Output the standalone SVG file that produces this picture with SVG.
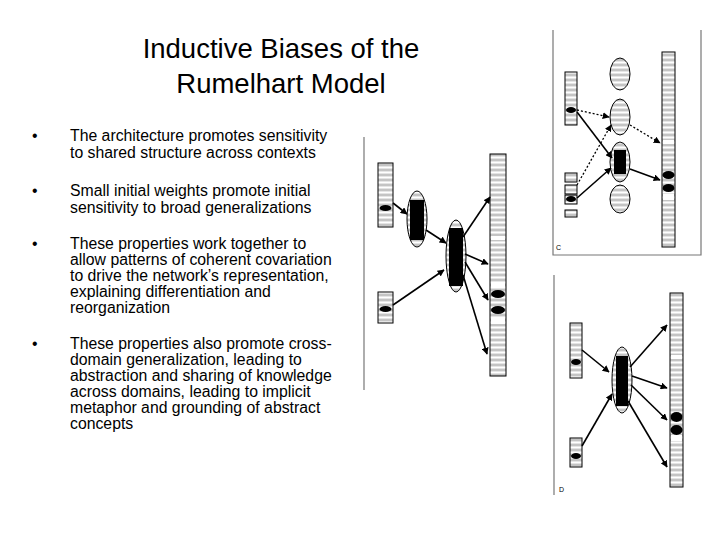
<svg xmlns="http://www.w3.org/2000/svg" width="720" height="540" viewBox="0 0 720 540">
<style>
text{font-family:"Liberation Sans",Arial,sans-serif;fill:#000}
.t{font-size:27.5px}
.b{font-size:15.8px}
.box{fill:url(#u);stroke:#000;stroke-width:1}
.ov{fill:url(#u);stroke:#000;stroke-width:1}
.blk{fill:#000}
.ar{stroke:#000;stroke-width:1.6;fill:none;marker-end:url(#ah)}
.dt{stroke:#000;stroke-width:1.3;fill:none;stroke-dasharray:2 2;marker-end:url(#ah)}
.fr{stroke:#777;stroke-width:1.2;fill:none}
</style>
<defs>
<pattern id="u" patternUnits="userSpaceOnUse" x="0" y="0" width="4" height="5">
<rect width="4" height="5" fill="#fff"/>
<path d="M0 0.8 H4 M0 4.2 H4" stroke="#555" stroke-width="0.5"/>
</pattern>
<marker id="ah" viewBox="0 0 10 10" refX="9" refY="5" markerWidth="7" markerHeight="7" orient="auto" markerUnits="userSpaceOnUse"><path d="M0 0 L10 5 L0 10 z" fill="#000"/></marker>
</defs>
<rect width="720" height="540" fill="#fff"/>
<g id="title">
<text class="t" x="281" y="58" text-anchor="middle">Inductive Biases of the</text>
<text class="t" x="281" y="93" text-anchor="middle">Rumelhart Model</text>
</g>
<g id="bullets">
<text class="b" x="32" y="141">•</text>
<text class="b" x="70" y="141">The architecture promotes sensitivity</text>
<text class="b" x="70" y="158">to shared structure across contexts</text>
<text class="b" x="32" y="196">•</text>
<text class="b" x="70" y="196">Small initial weights promote initial</text>
<text class="b" x="70" y="213">sensitivity to broad generalizations</text>
<text class="b" x="32" y="249">•</text>
<text class="b" x="70" y="249">These properties work together to</text>
<text class="b" x="70" y="265">allow patterns of coherent covariation</text>
<text class="b" x="70" y="281">to drive the network’s representation,</text>
<text class="b" x="70" y="297">explaining differentiation and</text>
<text class="b" x="70" y="313">reorganization</text>
<text class="b" x="32" y="349">•</text>
<text class="b" x="70" y="349">These properties also promote cross-</text>
<text class="b" x="70" y="365">domain generalization, leading to</text>
<text class="b" x="70" y="381">abstraction and sharing of knowledge</text>
<text class="b" x="70" y="397">across domains, leading to implicit</text>
<text class="b" x="70" y="413">metaphor and grounding of abstract</text>
<text class="b" x="70" y="429">concepts</text>
</g>
<g id="net-mid">
<line class="fr" x1="364" y1="137" x2="364" y2="390"/>
<rect class="box" x="378" y="163" width="15" height="64"/>
<ellipse class="blk" cx="385.5" cy="208" rx="6" ry="3"/>
<rect class="box" x="378" y="292" width="15" height="31"/>
<ellipse class="blk" cx="385.5" cy="309" rx="6" ry="3"/>
<ellipse class="ov" cx="417" cy="219" rx="10" ry="28"/>
<rect class="blk" x="410" y="200" width="14" height="40"/>
<ellipse class="ov" cx="456" cy="256" rx="10" ry="36"/>
<rect class="blk" x="449" y="228" width="14" height="58"/>
<rect class="box" x="490" y="154" width="16" height="222"/>
<rect x="491" y="236" width="14" height="4" fill="#fff"/>
<rect x="491" y="282" width="14" height="5" fill="#fff"/>
<rect x="491" y="318" width="14" height="6" fill="#fff"/>
<ellipse class="blk" cx="498" cy="294" rx="7" ry="4"/>
<ellipse class="blk" cx="498" cy="310" rx="7" ry="4"/>
</g>
<g id="net-c">
<path class="fr" d="M553 30 V255 H701 V30"/>
<text x="556" y="250" style="font-size:7px">C</text>
<rect class="box" x="565" y="72" width="12" height="53"/>
<ellipse class="blk" cx="571" cy="110" rx="5" ry="3"/>
<rect class="box" x="565" y="173" width="12" height="9"/>
<rect class="box" x="565" y="185" width="12" height="9"/>
<rect class="box" x="565" y="195" width="12" height="9"/>
<ellipse class="blk" cx="571" cy="199" rx="5" ry="3"/>
<rect class="box" x="565" y="210" width="12" height="7"/>
<ellipse class="ov" cx="620" cy="74" rx="10" ry="16"/>
<ellipse class="ov" cx="620" cy="117" rx="10" ry="18"/>
<ellipse class="ov" cx="620" cy="162" rx="10" ry="20"/>
<rect class="blk" x="614" y="150" width="12" height="24"/>
<ellipse class="ov" cx="620" cy="199" rx="10" ry="14"/>
<rect class="box" x="662" y="52" width="13" height="195"/>
<rect x="663" y="140" width="11" height="4" fill="#fff"/>
<rect x="663" y="194" width="11" height="6" fill="#fff"/>
<ellipse class="blk" cx="668.5" cy="175" rx="6" ry="4"/>
<ellipse class="blk" cx="668.5" cy="188" rx="6" ry="4"/>
</g>
<g id="net-d">
<line class="fr" x1="554" y1="275" x2="554" y2="495"/>
<text x="559" y="492" style="font-size:7px">D</text>
<rect class="box" x="570" y="323" width="12" height="55"/>
<ellipse class="blk" cx="576" cy="362" rx="5" ry="3"/>
<rect class="box" x="570" y="438" width="12" height="29"/>
<ellipse class="blk" cx="576" cy="456" rx="5" ry="3"/>
<ellipse class="ov" cx="622" cy="380" rx="10" ry="33"/>
<rect class="blk" x="616" y="356" width="12" height="50"/>
<rect class="box" x="670" y="293" width="13" height="194"/>
<rect x="671" y="355" width="11" height="4" fill="#fff"/>
<rect x="671" y="435" width="11" height="6" fill="#fff"/>
<ellipse class="blk" cx="676.5" cy="417" rx="6" ry="5"/>
<ellipse class="blk" cx="676.5" cy="430" rx="6" ry="5"/>
</g>
<g id="connectors">
<line class="ar" x1="393" y1="203" x2="407" y2="214"/>
<line class="ar" x1="426" y1="230" x2="446" y2="243"/>
<line class="ar" x1="393" y1="305" x2="444" y2="270"/>
<line class="ar" x1="463" y1="237" x2="490" y2="197"/>
<line class="ar" x1="465" y1="254" x2="488" y2="264"/>
<line class="ar" x1="465" y1="262" x2="488" y2="300"/>
<line class="ar" x1="463" y1="275" x2="487" y2="354"/>
<line class="dt" x1="577" y1="110" x2="609" y2="117"/>
<line class="ar" x1="577" y1="112" x2="612" y2="158"/>
<line class="dt" x1="577" y1="185" x2="611" y2="125"/>
<line class="ar" x1="577" y1="198" x2="611" y2="168"/>
<line class="dt" x1="630" y1="125" x2="660" y2="143"/>
<line class="ar" x1="630" y1="169" x2="660" y2="180"/>
<line class="ar" x1="582" y1="350" x2="609" y2="372"/>
<line class="ar" x1="582" y1="446" x2="612" y2="394"/>
<line class="ar" x1="630" y1="367" x2="667" y2="325"/>
<line class="ar" x1="632" y1="376" x2="667" y2="388"/>
<line class="ar" x1="631" y1="385" x2="667" y2="420"/>
<line class="ar" x1="628" y1="401" x2="667" y2="467"/>
</g>
</svg>
